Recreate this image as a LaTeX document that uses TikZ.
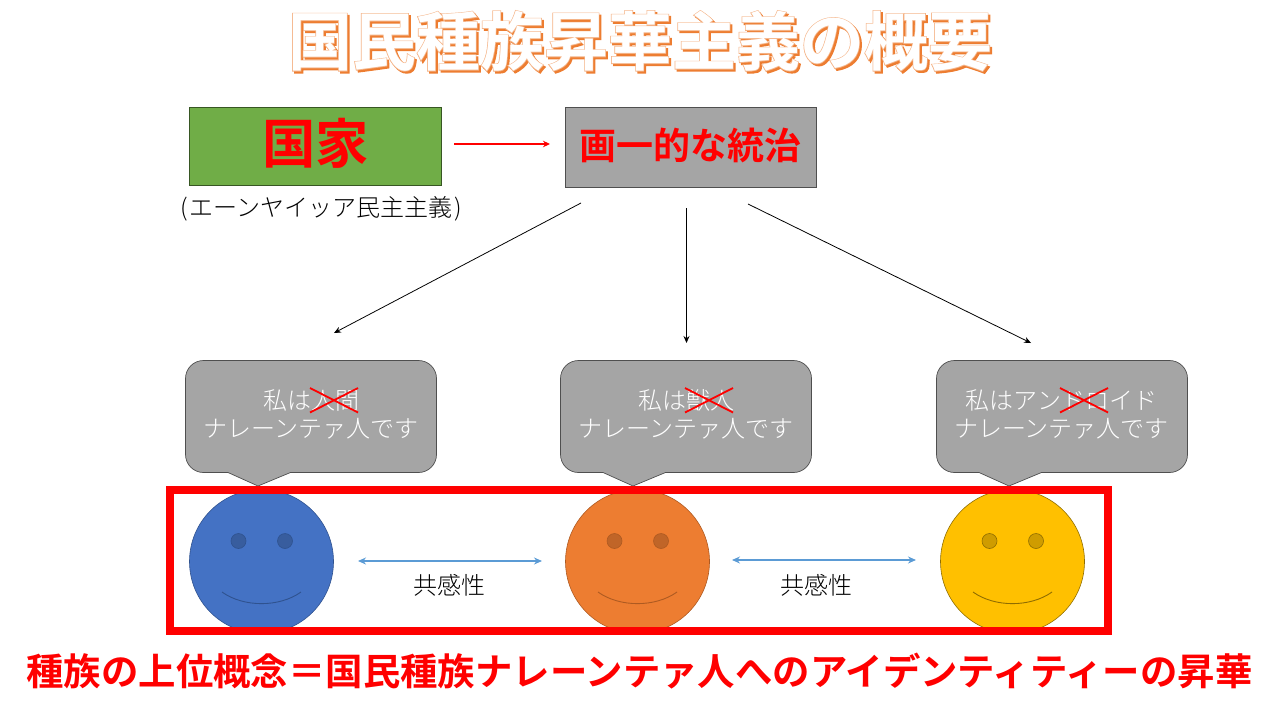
\documentclass[tikz,border=0pt]{standalone}
\usepackage{fontspec}
\setmainfont{Noto Sans CJK JP Light}
\newfontfamily\jpbold{Noto Sans CJK JP Bold}
\newfontfamily\jpstroke[FakeBold=2]{Noto Sans CJK JP Bold}
\usetikzlibrary{arrows.meta}
\definecolor{grayfill}{HTML}{A5A5A5}
\definecolor{bordergray}{HTML}{4F4F4F}
\definecolor{greenfill}{HTML}{70AD47}
\definecolor{greenline}{HTML}{375623}
\definecolor{titleorange}{HTML}{ED7D31}
\definecolor{titlelight}{HTML}{F4B183}
\definecolor{linkblue}{HTML}{5B9BD5}
\newcommand{\px}[1]{\fontsize{#1}{#1}\selectfont}
\tikzset{
  x=1pt,y=-1pt,
  box/.style={draw=bordergray,line width=0.7pt,inner sep=0pt,outer sep=0pt,anchor=north west},
  boxtext/.style={text=red,font=\jpbold\px{37},inner sep=0pt},
  thinarrow/.style={black,line width=0.8pt,-{Stealth[length=7pt,width=6pt]}},
  linkarrow/.style={linkblue,line width=1.2pt,{Stealth[length=8pt,width=7pt]}-{Stealth[length=8pt,width=7pt]}},
  saytext/.style={text=white,font=\px{24},align=center,inner sep=0pt},
  strike/.style={red,line width=1.8pt},
  face/.style={circle,minimum size=144pt,inner sep=0pt,outer sep=0pt,line width=0.6pt},
  eye/.style={circle,minimum size=15pt,inner sep=0pt,outer sep=0pt,line width=0.6pt},
  plain/.style={inner sep=0pt,font=\px{24}},
  titlecopy/.style={inner sep=0pt,font=\jpstroke\px{64}},
}
\newcommand{\callout}[1]{%
  \draw[draw=bordergray,fill=grayfill,line width=0.7pt,rounded corners=18pt]
    (#1,360.5) -- (#1+251,360.5) -- (#1+251,472.5) [sharp corners] -- (#1+105,472.5) -- (#1+72.5,486) -- (#1+42.5,472.5) [rounded corners=18pt] -- (#1,472.5) -- cycle;}
\newcommand{\facedraw}[5]{% name,cx,fill,line,eyefill
  \node[face,fill=#3,draw=#4] (#1) at (#2,561.5) {};
  \node[eye,fill=#5,draw=#4] (#1L) at (#2-23,541) {};
  \node[eye,fill=#5,draw=#4] (#1R) at (#2+23.5,541) {};
  \coordinate (#1a) at (#2-39.5,592);
  \coordinate (#1b) at (#2+39.5,592);
  \draw[#4,line width=0.9pt] (#1a) .. controls (#2-18,607.5) and (#2+18,607.5) .. (#1b);}
\definecolor{blueface}{HTML}{4472C4}\definecolor{blueline}{HTML}{2F528F}\definecolor{blueeye}{HTML}{385D9E}
\definecolor{orangeface}{HTML}{ED7D31}\definecolor{orangeline}{HTML}{AE5A21}\definecolor{orangeeye}{HTML}{C06528}
\definecolor{goldface}{HTML}{FFC000}\definecolor{goldline}{HTML}{8F6D00}\definecolor{goldeye}{HTML}{CF9C00}
\begin{document}
\begin{tikzpicture}
\useasboundingbox (0,0) rectangle (1280,720);
% title
\node[titlecopy,text=titleorange] (titleshadow) at (642,43) {国民種族昇華主義の概要};
\node[titlecopy,text=titlelight] (titleline) at (640,41) {国民種族昇華主義の概要};
\node[inner sep=0pt,text=white,font=\jpbold\px{64}] (title) at (640,41) {国民種族昇華主義の概要};
% top boxes
\node[box,fill=greenfill,draw=greenline,minimum width=252pt,minimum height=78pt] (state) at (189.5,107.5) {};
\node[boxtext,font=\jpbold\px{53.33}] (stateT) at (315.5,143.5) {国家};
\node[box,fill=grayfill,minimum width=251pt,minimum height=80pt] (rule) at (565.5,107.5) {};
\node[boxtext] (ruleT) at (690.5,145) {画一的な統治};
\node[plain] (demo) at (321,208.5) {(\kern2pt エーンヤイッア民主主義\kern2pt)};
\coordinate (s0) at (454,144);\coordinate (s1) at (550,144);
\draw[red,line width=1.8pt,-{Stealth[length=7pt,width=6.5pt]}] (s0) -- (s1);
\coordinate (a0) at (581,203);\coordinate (a1) at (334,333);
\coordinate (b0) at (686.5,208);\coordinate (b1) at (686.5,343);
\coordinate (c0) at (748,204);\coordinate (c1) at (1031,343);
\draw[thinarrow] (a0) -- (a1);
\draw[thinarrow] (b0) -- (b1);
\draw[thinarrow] (c0) -- (c1);
% callouts
\callout{185.5}\callout{560.5}\callout{936.5}
\node[saytext] (say1a) at (311,400) {私は人間};
\node[saytext] (say1b) at (311,428.5) {ナレーンテァ人です};
\node[saytext] (say2a) at (686,400) {私は獣人};
\node[saytext] (say2b) at (686,428.5) {ナレーンテァ人です};
\node[saytext] (say3a) at (1061.5,400) {私はアンドロイド};
\node[saytext] (say3b) at (1061.5,428.5) {ナレーンテァ人です};
\draw[strike] (310,388) -- (358,412.5) (310,412.5) -- (358,388);
\draw[strike] (685,388) -- (733,412.5) (685,412.5) -- (733,388);
\draw[strike] (1060,388) -- (1108,412.5) (1060,412.5) -- (1108,388);
% faces
\facedraw{f1}{261.5}{blueface}{blueline}{blueeye}
\facedraw{f2}{637.5}{orangeface}{orangeline}{orangeeye}
\facedraw{f3}{1012.5}{goldface}{goldline}{goldeye}
\coordinate (l0) at (358,561);\coordinate (l1) at (542,561);
\coordinate (m0) at (732,560);\coordinate (m1) at (916,560);
\draw[linkarrow] (l0) -- (l1);
\draw[linkarrow] (m0) -- (m1);
\node[plain] (em1) at (449.5,585.5) {共感性};
\node[plain] (em2) at (816,585.5) {共感性};
\draw[red,line width=8pt] (170,490) rectangle (1107.5,631);
\node[inner sep=0pt,text=red,font=\jpbold\px{37.4}] (bottom) at (639.5,671.5) {種族の上位概念＝国民種族ナレーンテァ人へのアイデンティティーの昇華};
\end{tikzpicture}
\end{document}
